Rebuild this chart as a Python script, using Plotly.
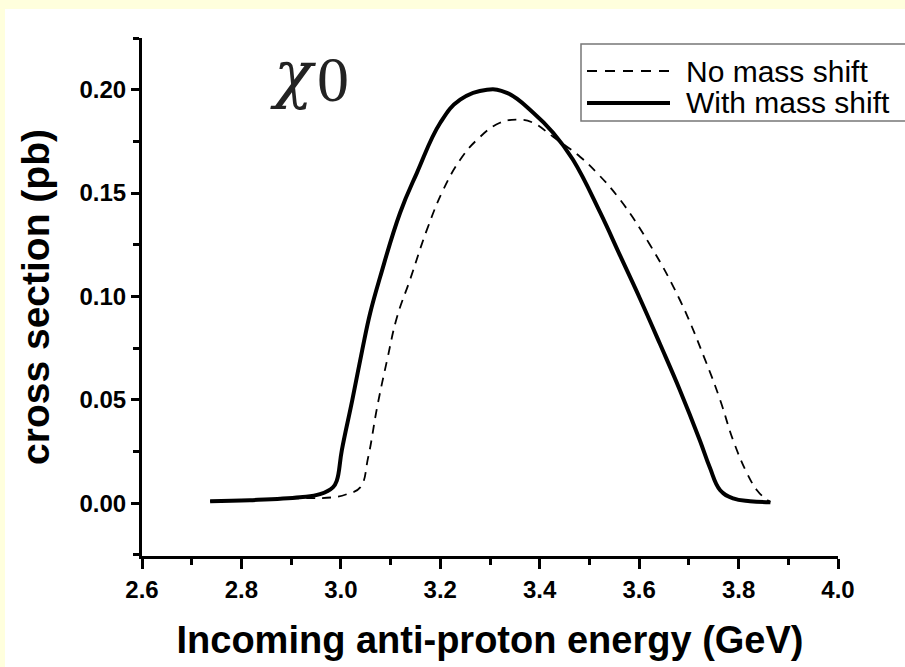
import plotly.graph_objects as go

# ---- data ----
energy_solid = [2.737, 2.817, 2.918, 2.958, 2.984, 2.992, 3.002, 3.023, 3.043, 3.059,
                3.079, 3.119, 3.153, 3.200, 3.240, 3.294, 3.334, 3.387, 3.427, 3.467,
                3.522, 3.562, 3.602, 3.642, 3.682, 3.722, 3.742, 3.763, 3.789, 3.823, 3.864]
xsec_solid = [0.0010, 0.0015, 0.0029, 0.0044, 0.0077, 0.0111, 0.0257, 0.0499, 0.0741, 0.0920,
              0.1094, 0.1404, 0.1598, 0.1840, 0.1952, 0.2000, 0.1985, 0.1889, 0.1792, 0.1661,
              0.1404, 0.1196, 0.0988, 0.0770, 0.0547, 0.0305, 0.0174, 0.0063, 0.0024, 0.0010, 0.0005]

energy_dash = [2.737, 2.817, 2.918, 2.984, 3.012, 3.039, 3.055, 3.073, 3.093, 3.113,
               3.139, 3.173, 3.206, 3.240, 3.274, 3.320, 3.361, 3.387, 3.427, 3.481,
               3.515, 3.562, 3.622, 3.682, 3.733, 3.763, 3.789, 3.817, 3.837, 3.853, 3.864]
xsec_dash = [0.0010, 0.0015, 0.0024, 0.0029, 0.0044, 0.0077, 0.0223, 0.0465, 0.0692, 0.0901,
             0.1080, 0.1322, 0.1516, 0.1661, 0.1758, 0.1840, 0.1855, 0.1840, 0.1772, 0.1676,
             0.1598, 0.1467, 0.1249, 0.0983, 0.0692, 0.0499, 0.0305, 0.0145, 0.0063, 0.0024, 0.0005]

x_ticks = [2.6, 2.8, 3.0, 3.2, 3.4, 3.6, 3.8, 4.0]
y_ticks = [0.00, 0.05, 0.10, 0.15, 0.20]
legend_names = ["No mass shift", "With mass shift"]

W, H = 905, 667
L, R, T, B = 142, 67, 38, 111
pw, ph = W - L - R, H - T - B


def px_x(p):
    return (p - L) / pw


def px_y(p):
    return (H - B - p) / ph


fig = go.Figure()
fig.add_trace(go.Scatter(x=energy_dash, y=xsec_dash, mode="lines", name=legend_names[0],
                         line=dict(color="black", width=1.8, dash="9px,7px", shape="spline",
                                   smoothing=1.2),
                         showlegend=False))
fig.add_trace(go.Scatter(x=energy_solid, y=xsec_solid, mode="lines", name=legend_names[1],
                         line=dict(color="black", width=4, shape="spline", smoothing=1.2),
                         showlegend=False))

tickfont = dict(family="Liberation Sans", size=24, color="black", weight="bold")

fig.update_layout(
    width=W, height=H,
    margin=dict(l=L, r=R, t=T, b=B),
    paper_bgcolor="#FFFFDD",
    plot_bgcolor="white",
    xaxis=dict(range=[2.6, 4.0], tickvals=x_ticks, ticktext=[f"{v:.1f}" for v in x_ticks],
               showgrid=False, zeroline=False, showline=True, linecolor="black", linewidth=3,
               ticks="outside", ticklen=10, tickwidth=3, tickcolor="black",
               minor=dict(ticks="outside", ticklen=6, tickwidth=3, tickcolor="black", dtick=0.1,
                          tick0=2.6, showgrid=False),
               tickfont=tickfont,
               title=dict(text="Incoming anti-proton energy (GeV)",
                          font=dict(family="Liberation Sans", size=38, color="black", weight="bold"),
                          standoff=25),
               automargin=False),
    yaxis=dict(range=[-0.0255, 0.225], tickvals=y_ticks, ticktext=[f"{v:.2f}" for v in y_ticks],
               showgrid=False, zeroline=False, showline=True, linecolor="black", linewidth=3,
               ticks="outside", ticklen=8, tickwidth=3, tickcolor="black",
               minor=dict(ticks="outside", ticklen=6, tickwidth=3, tickcolor="black", dtick=0.025,
                          tick0=0, showgrid=False),
               tickfont=tickfont,
               title=dict(text="cross section (pb)",
                          font=dict(family="Liberation Sans", size=39, color="black", weight="bold"),
                          standoff=18),
               automargin=False),
    showlegend=False,
)

# white page area inside the yellow frame
fig.add_shape(type="rect", xref="paper", yref="paper", layer="below",
              x0=px_x(5), x1=px_x(W + 5), y0=px_y(H + 5), y1=px_y(9),
              fillcolor="white", line=dict(width=0))

# legend box drawn by hand to match the original's long line samples
fig.add_shape(type="rect", xref="paper", yref="paper",
              x0=px_x(581), x1=px_x(W + 20), y0=px_y(121), y1=px_y(44),
              fillcolor="white", line=dict(color="#777777", width=1.5))
fig.add_shape(type="line", xref="paper", yref="paper",
              x0=px_x(587), x1=px_x(670), y0=px_y(71), y1=px_y(71),
              line=dict(color="black", width=1.8, dash="10px,8px"))
fig.add_shape(type="line", xref="paper", yref="paper",
              x0=px_x(587), x1=px_x(670), y0=px_y(103), y1=px_y(103),
              line=dict(color="black", width=4))
for name, yy in zip(legend_names, [71, 103]):
    fig.add_annotation(text=name, xref="paper", yref="paper", x=px_x(684), y=px_y(yy),
                       xanchor="left", yanchor="middle", showarrow=False,
                       font=dict(family="Liberation Sans", size=30, color="black"))

# chi_0 label
fig.add_annotation(text="<i>χ</i>", xref="paper", yref="paper", x=px_x(293), y=px_y(74),
                   xanchor="center", yanchor="middle", showarrow=False,
                   font=dict(family="DejaVu Serif", size=64, color="#222222"))
fig.add_annotation(text="0", xref="paper", yref="paper", x=px_x(333), y=px_y(80),
                   xanchor="center", yanchor="middle", showarrow=False,
                   font=dict(family="Liberation Serif", size=64, color="#222222"))

fig.write_html("out.html")
